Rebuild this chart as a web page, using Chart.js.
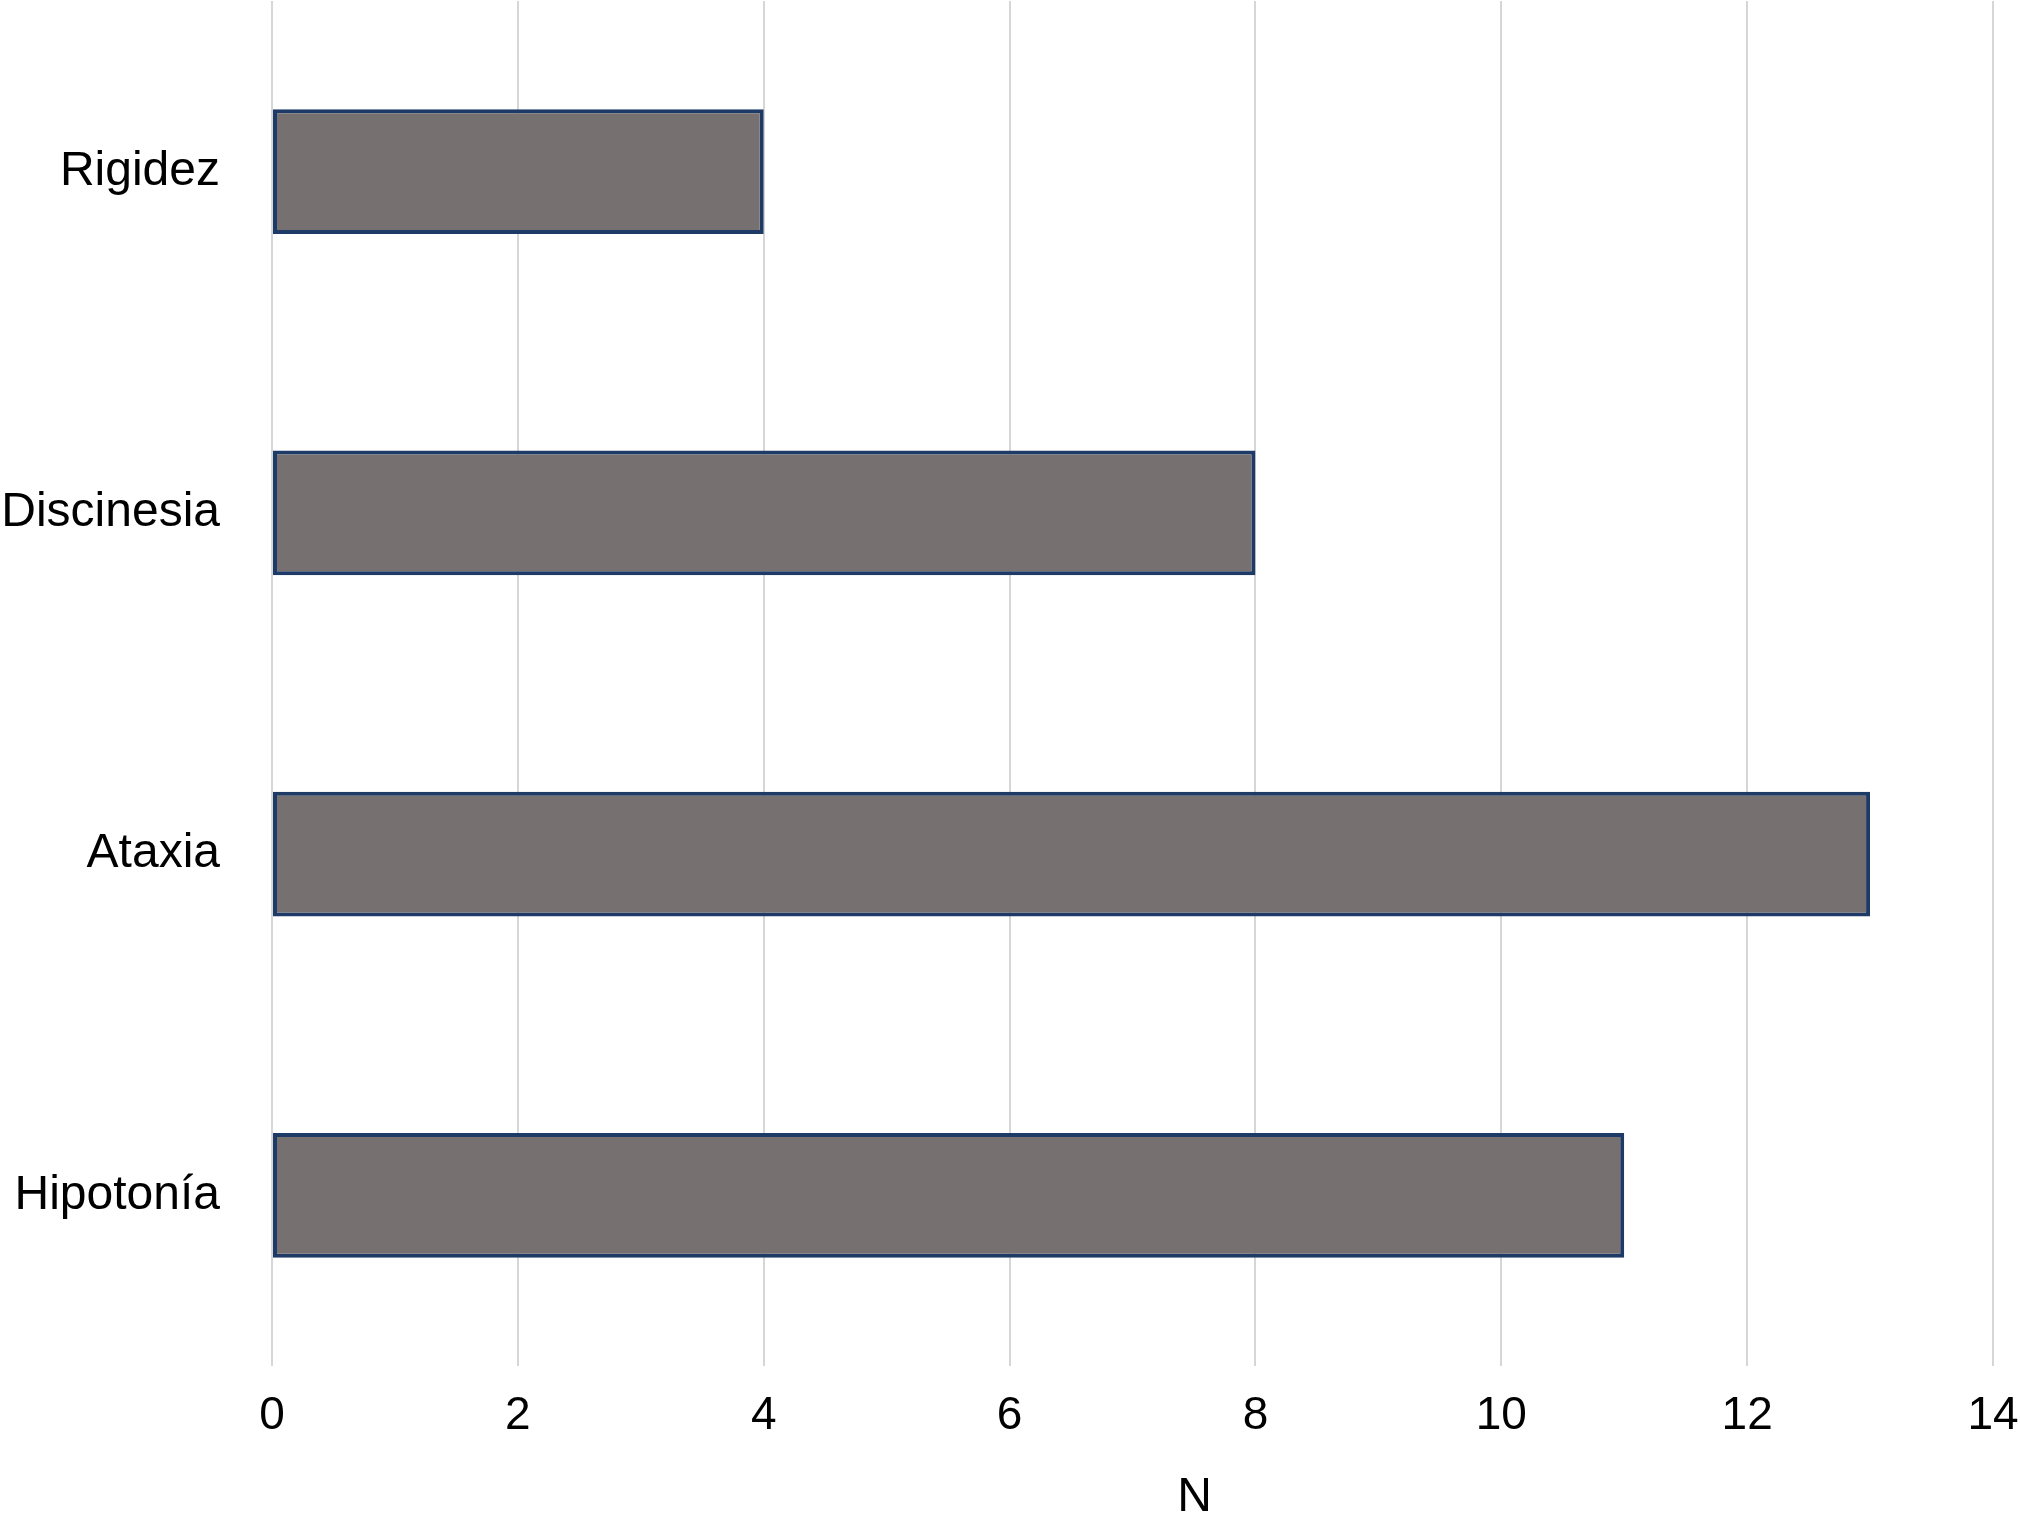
<!DOCTYPE html>
<html>
<head>
<meta charset="utf-8">
<script src="https://cdn.jsdelivr.net/npm/chart.js@4"></script>
<style>
  html, body { margin: 0; padding: 0; background: #ffffff; }
  #wrap { width: 2020px; height: 1525px; }
</style>
</head>
<body>
<div id="wrap"><canvas id="c" width="2020" height="1525"></canvas></div>
<script>
const categories = ['Rigidez', 'Discinesia', 'Ataxia', 'Hipotonía'];
const values = [4, 8, 13, 11];
const xTicks = [0, 2, 4, 6, 8, 10, 12, 14];
const xTitle = 'N';

const FONT = '"Liberation Sans", Arial, Helvetica, sans-serif';

const offsetTitle = {
  id: 'offsetTitle',
  afterDraw(chart) {
    const x = chart.scales.x;
    const ctx = chart.ctx;
    ctx.save();
    ctx.font = '48px ' + FONT;
    ctx.fillStyle = '#000000';
    ctx.textAlign = 'center';
    ctx.textBaseline = 'middle';
    ctx.fillText(xTitle, (x.left + x.right) / 2 + 62, 1498);
    ctx.restore();
  }
};

new Chart(document.getElementById('c'), {
  type: 'bar',
  data: {
    labels: categories,
    datasets: [{
      data: values,
      backgroundColor: '#767170',
      borderColor: '#1e3a66',
      borderWidth: 4,
      borderSkipped: false,
      barPercentage: 0.366,
      categoryPercentage: 1.0
    }]
  },
  options: {
    indexAxis: 'y',
    responsive: false,
    animation: false,
    layout: { padding: { top: 1, right: 27, bottom: 0, left: 0 } },
    plugins: {
      legend: { display: false },
      tooltip: { enabled: false }
    },
    scales: {
      x: {
        min: 0,
        max: 14,
        afterBuildTicks(scale) { scale.ticks = xTicks.map(v => ({ value: v })); },
        afterFit(scale) {
          scale.height = 159;
          scale.paddingLeft = 0; scale.paddingRight = 0;
          scale.paddingTop = 0; scale.paddingBottom = 0;
        },
        border: { display: false },
        grid: { color: '#d6d6d6', lineWidth: 2, drawTicks: false },
        ticks: {
          padding: 23,
          color: '#000000',
          font: { family: FONT, size: 46 },
          maxRotation: 0
        },
        title: { display: false, text: xTitle }
      },
      y: {
        afterFit(scale) {
          scale.width = 272;
          scale.paddingLeft = 0; scale.paddingRight = 0;
          scale.paddingTop = 0; scale.paddingBottom = 0;
        },
        border: { display: false },
        grid: { display: false, drawTicks: false },
        ticks: {
          padding: 52,
          color: '#000000',
          font: { family: FONT, size: 48 }
        }
      }
    }
  },
  plugins: [offsetTitle]
});
</script>
</body>
</html>
